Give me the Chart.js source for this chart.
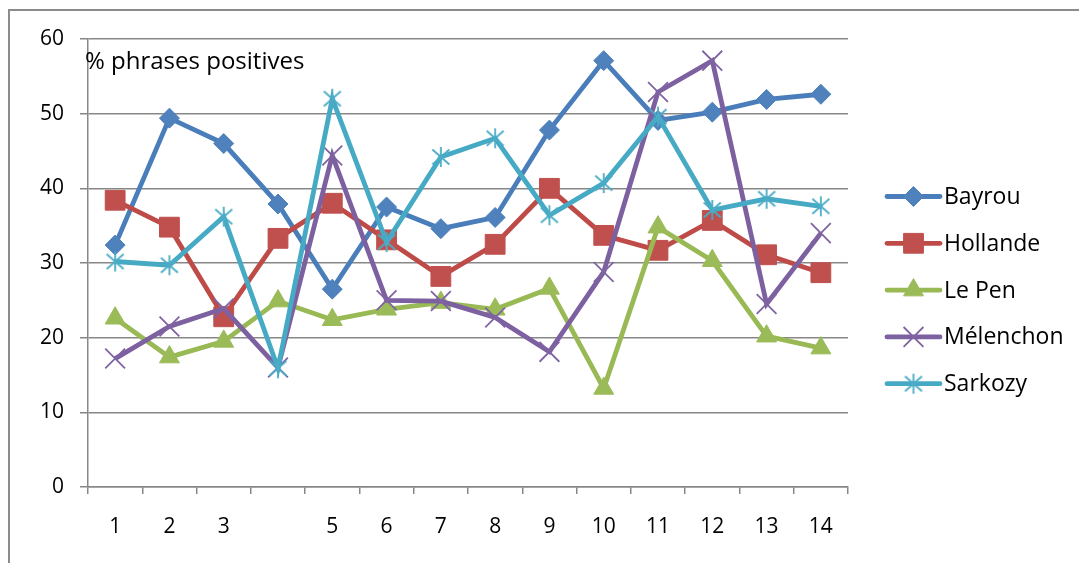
<!DOCTYPE html>
<html>
<head>
<meta charset="utf-8">
<script src="https://cdn.jsdelivr.net/npm/chart.js@4/dist/chart.umd.min.js"></script>
<style>
  html, body { margin: 0; padding: 0; background: #ffffff; }
  #wrap { position: relative; width: 1079px; height: 563px; }
</style>
</head>
<body>
<div id="wrap"><canvas id="c" width="1079" height="563"></canvas></div>
<script>
// Categories along the x axis (the 4th one carries no label)
const categories = ['1', '2', '3', '', '5', '6', '7', '8', '9', '10', '11', '12', '13', '14'];
const yTicks = [0, 10, 20, 30, 40, 50, 60];
const yTitle = '% phrases positives';

// Share of positive sentences per candidate
const seriesNames = ['Bayrou', 'Hollande', 'Le Pen', 'Mélenchon', 'Sarkozy'];
const bayrou    = [32.4, 49.4, 46.0, 37.9, 26.5, 37.5, 34.6, 36.1, 47.8, 57.1, 49.1, 50.2, 51.9, 52.6];
const hollande  = [38.4, 34.8, 22.8, 33.3, 38.0, 33.1, 28.2, 32.5, 40.0, 33.7, 31.7, 35.7, 31.1, 28.7];
const lePen     = [22.6, 17.4, 19.5, 24.9, 22.4, 23.8, 24.7, 23.8, 26.6, 13.2, 34.8, 30.3, 20.2, 18.6];
const melenchon = [17.2, 21.5, 23.9, 16.0, 44.4, 25.0, 24.9, 22.7, 18.1, 28.8, 52.9, 57.1, 24.5, 34.0];
const sarkozy   = [30.2, 29.7, 36.2, 15.9, 52.0, 32.8, 44.2, 46.7, 36.4, 40.7, 49.6, 37.1, 38.6, 37.6];

const FONT = '"Open Sans", "Noto Sans", sans-serif';
const GRID = '#878787';

// Asterisk marker: vertical bar plus a diagonal cross
function asterisk(color) {
  const s = 24, c = document.createElement('canvas');
  c.width = s; c.height = s;
  const g = c.getContext('2d');
  g.strokeStyle = color; g.lineWidth = 1.8; g.lineCap = 'butt';
  g.beginPath();
  g.moveTo(12, 2); g.lineTo(12, 22);
  g.moveTo(3.5, 4.5); g.lineTo(20.5, 19.5);
  g.moveTo(20.5, 4.5); g.lineTo(3.5, 19.5);
  g.stroke();
  return c;
}

const styles = [
  { line: '#4A7EBB', fill: '#4F81BD', point: 'rectRot',  r: 10, bw: 1 },
  { line: '#BE4B48', fill: '#C0504D', point: 'rect',     r: 14, bw: 1 },
  { line: '#98B954', fill: '#9BBB59', point: 'triangle', r: 11.5, bw: 1 },
  { line: '#7D60A0', fill: '#8064A2', point: 'crossRot', r: 14, bw: 1.8 },
  { line: '#46AAC5', fill: '#4BACC6', point: asterisk('#4BACC6'), r: 12, bw: 1.8 }
];
const values = [bayrou, hollande, lePen, melenchon, sarkozy];

const datasets = seriesNames.map((name, i) => ({
  label: name,
  data: values[i],
  borderColor: styles[i].line,
  backgroundColor: styles[i].fill,
  borderWidth: 4.8,
  pointStyle: styles[i].point,
  pointRadius: styles[i].r,
  pointHoverRadius: styles[i].r,
  pointBackgroundColor: styles[i].fill,
  pointBorderColor: styles[i].fill,
  pointBorderWidth: styles[i].bw,
  tension: 0,
  order: seriesNames.length - 1 - i
}));

// Grey frame along the top and left edges
const framePlugin = {
  id: 'frame',
  beforeDraw(chart) {
    const ctx = chart.ctx;
    ctx.save();
    ctx.strokeStyle = '#8c8c8c';
    ctx.lineWidth = 2;
    ctx.beginPath();
    ctx.moveTo(9, 563);
    ctx.lineTo(9, 10);
    ctx.lineTo(1079, 10);
    ctx.stroke();
    ctx.restore();
  }
};

// Axis caption written inside the plot, top-left
const captionPlugin = {
  id: 'caption',
  afterDatasetsDraw(chart) {
    const ctx = chart.ctx;
    ctx.save();
    ctx.font = '24px ' + FONT;
    ctx.fillStyle = '#000000';
    ctx.textAlign = 'left';
    ctx.textBaseline = 'alphabetic';
    ctx.fillText(yTitle, chart.chartArea.left - 3, 69);
    ctx.restore();
  }
};

// Legend: a short line with the series marker, then the name
const legendPlugin = {
  id: 'sideLegend',
  afterDraw(chart) {
    const ctx = chart.ctx;
    const x0 = 887, x1 = 940, top = 196.5, step = 46.8;
    ctx.save();
    chart.data.datasets.forEach((ds, i) => {
      const y = top + i * step;
      ctx.strokeStyle = ds.borderColor;
      ctx.lineWidth = 4.8;
      ctx.lineCap = 'round';
      ctx.beginPath();
      ctx.moveTo(x0, y); ctx.lineTo(x1, y);
      ctx.stroke();
      ctx.lineCap = 'butt';
      ctx.fillStyle = ds.pointBackgroundColor;
      ctx.strokeStyle = ds.pointBorderColor;
      ctx.lineWidth = ds.pointBorderWidth;
      Chart.helpers.drawPoint(ctx, {
        pointStyle: ds.pointStyle,
        radius: ds.pointRadius,
        borderWidth: ds.pointBorderWidth,
        rotation: 0
      }, (x0 + x1) / 2, y);
      ctx.fillStyle = '#000000';
      ctx.font = '23px ' + FONT;
      ctx.textAlign = 'left';
      ctx.textBaseline = 'middle';
      ctx.fillText(ds.label, 944, y + 1);
    });
    ctx.restore();
  }
};

new Chart(document.getElementById('c'), {
  type: 'line',
  data: { labels: categories, datasets },
  plugins: [framePlugin, captionPlugin, legendPlugin],
  options: {
    responsive: false,
    animation: false,
    events: [],
    layout: { padding: { left: 0, top: 39, right: 231, bottom: 16 } },
    plugins: { legend: { display: false }, tooltip: { enabled: false }, title: { display: false } },
    scales: {
      x: {
        offset: true,
        grid: {
          display: true,
          drawOnChartArea: false,
          drawTicks: true,
          tickLength: 7,
          offset: true,
          color: GRID,
          lineWidth: 1.5
        },
        border: { display: true, color: GRID, width: 1.5 },
        ticks: {
          color: '#000000',
          font: { family: FONT, size: 21 },
          padding: 20,
          maxRotation: 0,
          autoSkip: false
        },
        afterFit(scale) { scale.height = 60; }
      },
      y: {
        min: 0,
        max: 60,
        afterBuildTicks(scale) { scale.ticks = yTicks.map(v => ({ value: v })); },
        grid: {
          color: GRID,
          lineWidth: 1.5,
          drawTicks: true,
          tickLength: 8
        },
        border: { display: true, color: GRID, width: 1.5 },
        ticks: {
          color: '#000000',
          font: { family: FONT, size: 21 },
          padding: 16
        },
        afterFit(scale) { scale.width = 88; }
      }
    }
  }
});
</script>
</body>
</html>
